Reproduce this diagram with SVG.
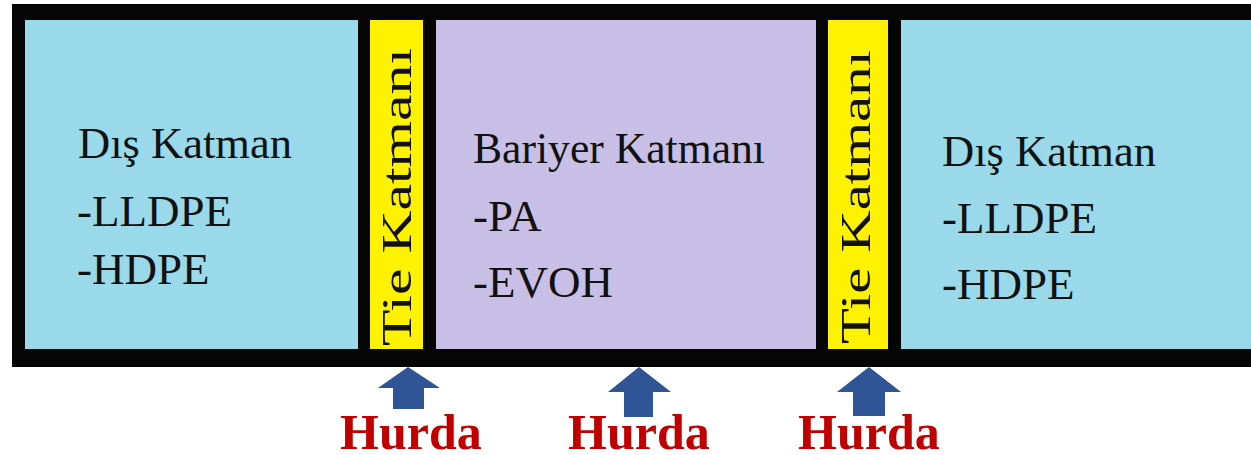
<svg xmlns="http://www.w3.org/2000/svg" width="1251" height="455" viewBox="0 0 1251 455">
<style>
.lbl{font-family:"Liberation Serif","Times New Roman",serif;font-size:45px;fill:#111}
.tie{font-family:"Liberation Serif","Times New Roman",serif;font-size:43px;fill:#111}
.hurda{font-family:"Liberation Serif","Times New Roman",serif;font-size:50px;font-weight:bold;fill:#C00000}
.arr{fill:#2F5597}
</style>
<rect x="0" y="0" width="1251" height="455" fill="#ffffff"/>
<g id="frame">
<rect x="12" y="4" width="1239" height="363" fill="#050505"/>
</g>
<g id="dis-left">
<rect x="25" y="20" width="333" height="329" fill="#99D9EA"/>
<text class="lbl" x="78" y="158" textLength="214" lengthAdjust="spacingAndGlyphs">Dış Katman</text>
<text class="lbl" x="77" y="226">-LLDPE</text>
<text class="lbl" x="77" y="284">-HDPE</text>
</g>
<g id="tie-left">
<rect x="370" y="20" width="53" height="329" fill="#FFF200"/>
<text class="tie" transform="translate(411,346) rotate(-90)" textLength="298" lengthAdjust="spacingAndGlyphs">Tie Katmanı</text>
</g>
<g id="bariyer">
<rect x="436" y="20" width="380" height="329" fill="#C8BFE7"/>
<text class="lbl" x="473" y="163" textLength="292" lengthAdjust="spacingAndGlyphs">Bariyer Katmanı</text>
<text class="lbl" x="473" y="231">-PA</text>
<text class="lbl" x="473" y="297">-EVOH</text>
</g>
<g id="tie-right">
<rect x="828" y="20" width="60" height="329" fill="#FFF200"/>
<text class="tie" transform="translate(870,344) rotate(-90)" textLength="294" lengthAdjust="spacingAndGlyphs">Tie Katmanı</text>
</g>
<g id="dis-right">
<rect x="901" y="20" width="350" height="329" fill="#99D9EA"/>
<text class="lbl" x="942" y="166" textLength="214" lengthAdjust="spacingAndGlyphs">Dış Katman</text>
<text class="lbl" x="942" y="233">-LLDPE</text>
<text class="lbl" x="942" y="299">-HDPE</text>
</g>
<g id="connectors">
<polygon class="arr" points="408,367 440,388 424,388 424,409 393,409 393,388 378,388"/>
<polygon class="arr" points="639,367 671,392 653,392 653,417 624,417 624,392 608,392"/>
<polygon class="arr" points="869,367 901,392 885,392 885,416 853,416 853,392 837,392"/>
</g>
<g id="labels">
<text class="hurda" x="340" y="449">Hurda</text>
<text class="hurda" x="568" y="449">Hurda</text>
<text class="hurda" x="798" y="449">Hurda</text>
</g>
</svg>
